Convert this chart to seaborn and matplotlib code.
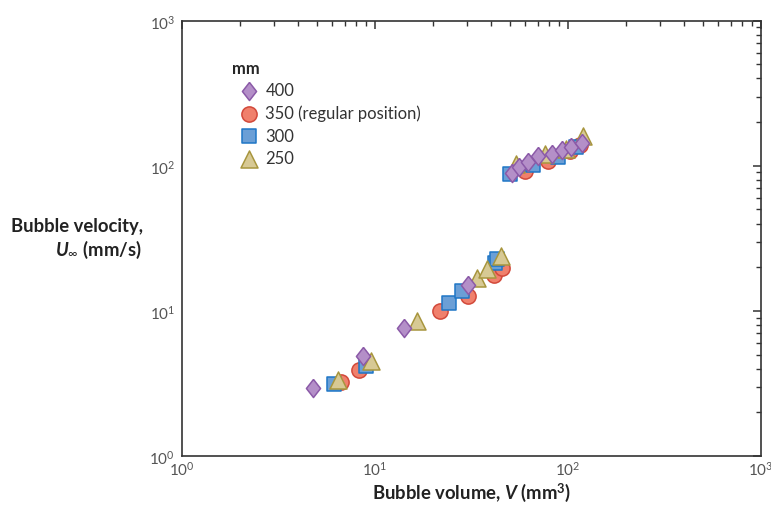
import matplotlib
matplotlib.use('Agg')
from matplotlib import pyplot as plt
import pandas as pd
import seaborn as sns

# **************************************************************************
# values (mm^3, mm/s)

groups = ['400', '350 (regular position)', '300', '250']

vol_350 = [6.7, 8.3, 21.7, 30.3, 41.4, 45.5, 60, 79, 102, 115]
vel_350 = [3.25, 3.9, 10.0, 12.7, 17.7, 19.8, 92, 108, 126, 139]

vol_300 = [6.1, 9.0, 24.2, 28.2, 41.9, 43.0, 50, 66, 89, 110]
vel_300 = [3.15, 4.2, 11.4, 13.7, 21.4, 22.7, 88, 101, 115, 134]

vol_250 = [6.4, 9.5, 16.5, 33.8, 38.0, 45.0, 54, 76, 98, 120]
vel_250 = [3.35, 4.5, 8.5, 16.9, 19.5, 23.9, 103, 120, 130, 161]

vol_400 = [4.8, 8.7, 14.1, 30.3, 51, 56, 62, 70, 83, 93, 104, 118]
vel_400 = [2.95, 4.9, 7.6, 15.1, 89, 98, 107, 117, 121, 129, 135, 144]

# **************************************************************************

fills = {'400': '#b48fc8', '350 (regular position)': '#f0806c',
         '300': '#6b9fd6', '250': '#d7c994'}
edges = {'400': '#8b5aa8', '350 (regular position)': '#d2493a',
         '300': '#1f76c6', '250': '#a8963e'}
tall_diamond = [(0, 1), (0.78, 0), (0, -1), (-0.78, 0), (0, 1)]
markers = {'400': tall_diamond, '350 (regular position)': 'o',
           '300': 's', '250': '^'}
sizes = {'400': 170, '350 (regular position)': 120, '300': 95, '250': 150}


def make_frame():
    # draw order: circles underneath, diamonds on top
    parts = []
    for name, vx, vy in [('350 (regular position)', vol_350, vel_350),
                         ('300', vol_300, vel_300),
                         ('250', vol_250, vel_250),
                         ('400', vol_400, vel_400)]:
        parts.append(pd.DataFrame({'volume': vx, 'velocity': vy, 'mm': name}))
    return pd.concat(parts, ignore_index=True)


def bubble_plot():
    sns.set_style('white')
    plt.rcParams['font.family'] = ['Lato', 'DejaVu Sans']
    plt.rcParams['mathtext.fontset'] = 'custom'
    plt.rcParams['mathtext.rm'] = 'Lato'
    plt.rcParams['mathtext.it'] = 'Lato:italic'
    plt.rcParams['mathtext.bf'] = 'Lato:bold'
    plt.rcParams['mathtext.bfit'] = 'Lato:bold:italic'

    df = make_frame()
    fig = plt.figure(figsize=(7.71, 5.06), dpi=100)
    ax = fig.add_axes([0.236, 0.097, 0.751, 0.860])

    for name in ['350 (regular position)', '300', '250', '400']:
        sub = df[df['mm'] == name]
        sns.scatterplot(data=sub, x='volume', y='velocity', ax=ax,
                        marker=markers[name], s=sizes[name],
                        color=fills[name], edgecolor=edges[name],
                        linewidth=1.1, label=name, legend=False, zorder=3)

    ax.set_xscale('log')
    ax.set_yscale('log')
    ax.set_xlim(1, 1000)
    ax.set_ylim(1, 1000)

    for side in ax.spines.values():
        side.set_color('#333333')
        side.set_linewidth(1.2)
    ax.tick_params(which='both', direction='in', top=True, right=True,
                   colors='#333333', labelcolor='#555555', labelsize=11)
    ax.tick_params(which='major', length=6, width=1.1, pad=5)
    ax.tick_params(axis='x', which='major', pad=3)
    ax.tick_params(which='minor', length=3.5, width=1.0)

    ax.set_xlabel(r'Bubble volume, $\mathbfit{V}$ (mm$^\mathbf{3}$)',
                  fontsize=13.3, fontweight='bold', color='#222222', labelpad=2)
    ax.set_ylabel('')
    fig.text(0.186, 0.553, 'Bubble velocity,', ha='right', va='center',
             fontsize=13.3, fontweight='bold', color='#222222')
    fig.text(0.184, 0.506, r'$\mathbfit{U}_{\infty}$ (mm/s)', ha='right',
             va='center', fontsize=13.3, fontweight='bold', color='#222222')

    # legend in reference order
    handles, labels = ax.get_legend_handles_labels()
    lookup = dict(zip(labels, handles))
    leg = ax.legend([lookup[g] for g in groups], groups, title='mm',
                    loc='upper left', bbox_to_anchor=(0.075, 0.925),
                    frameon=False, fontsize=12, labelspacing=0.38,
                    handletextpad=0.0, borderaxespad=0, alignment='left',
                    labelcolor='#333333')
    leg.get_title().set_fontweight('bold')
    leg.get_title().set_fontsize(12)

    fig.savefig('out.png', dpi=100)


# **************************************************************************

bubble_plot()
